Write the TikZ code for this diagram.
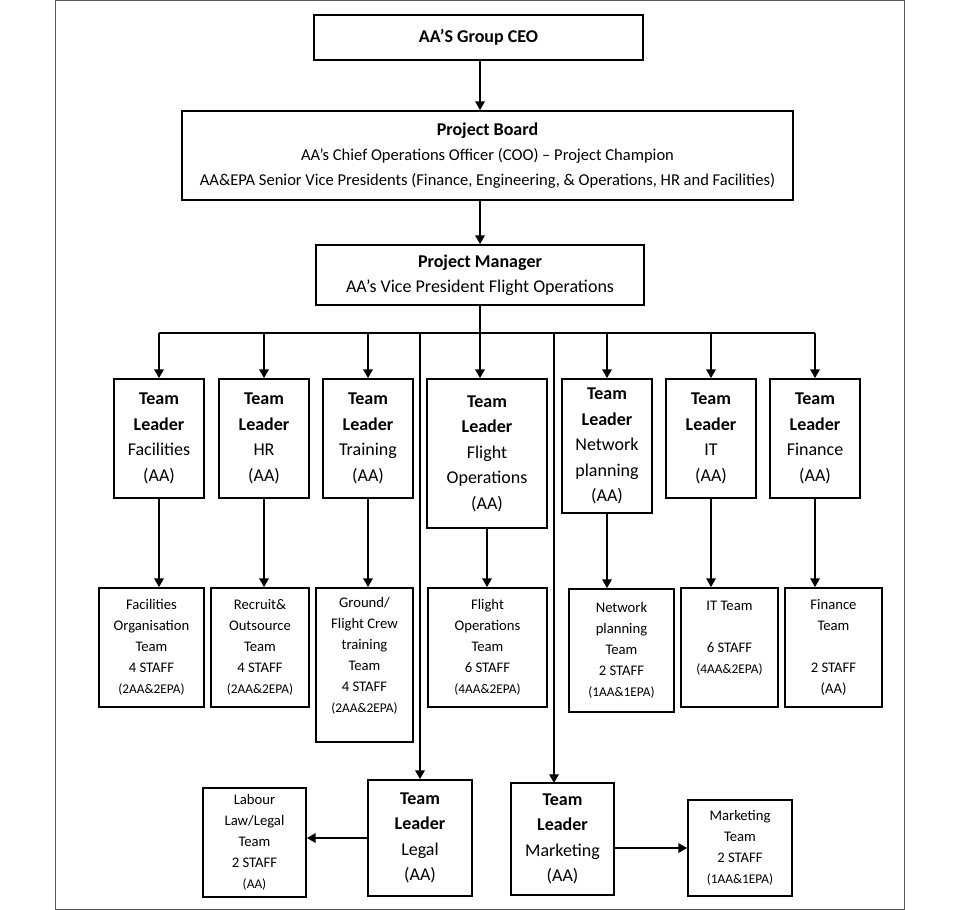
\documentclass[tikz,border=0pt]{standalone}
\usepackage{fontspec}
\setmainfont{Carlito}
\usepackage{tikz}
\usetikzlibrary{arrows.meta}
\tikzset{every picture/.style={line width=0.75pt}}
\tikzset{
  box/.style={draw, line width=1.3pt, fill=white, align=center, inner sep=1pt},
  headbox/.style={box, font=\fontsize{13.5}{19}\selectfont},
  leadbox/.style={box, font=\fontsize{13.5}{19.1}\selectfont},
  teambox/.style={box, font=\fontsize{11}{15.75}\selectfont},
  arr/.style={line width=1.3pt, -{Triangle[length=6.5pt,width=7pt]}},
  bar/.style={line width=1.3pt}
}
\newcommand{\mixfnt}{\fontsize{10}{15}\selectfont}
\newcommand{\subfnt}{\fontsize{12.4}{18}\selectfont}

\begin{document}
\begin{tikzpicture}[x=0.75pt,y=0.75pt,yscale=-1,xscale=1]
\useasboundingbox (0,0) rectangle (960,910);
\fill[white] (0,0) rectangle (960,910);
%Frame
\draw[draw=black!65, line width=0.9pt] (55.5,0.5) rectangle (904.5,909.5);

% Top of chart
\node[headbox, minimum width=246.75pt, minimum height=33.75pt] (ceo) at (478.5,37.5) {\bfseries AA’S Group CEO};
\node[headbox, minimum width=458.25pt, minimum height=66.75pt] (board) at (487.5,155.5)
  {\bfseries Project Board\\ \subfnt AA’s Chief Operations Officer (COO) – Project Champion\\ \subfnt AA\&EPA Senior Vice Presidents (Finance, Engineering, \& Operations, HR and Facilities)};
\node[headbox, minimum width=246pt, minimum height=45pt] (pm) at (480,275)
  {\bfseries Project Manager\\ AA’s Vice President Flight Operations};

% Team leaders
\node[leadbox, minimum width=67.5pt, minimum height=89.25pt] (tlfac) at (159,438.5) {\bfseries Team\\ \bfseries Leader\\ Facilities\\ (AA)};
\node[leadbox, minimum width=67.5pt, minimum height=89.25pt] (tlhr) at (264,438.5) {\bfseries Team\\ \bfseries Leader\\ HR\\ (AA)};
\node[leadbox, minimum width=67.5pt, minimum height=89.25pt] (tltrn) at (368,438.5) {\bfseries Team\\ \bfseries Leader\\ Training\\ (AA)};
\node[leadbox, minimum width=90pt, minimum height=111.75pt] (tlfli) at (487,453.5) {\bfseries Team\\ \bfseries Leader\\ Flight\\ Operations\\ (AA)};
\node[leadbox, minimum width=67.5pt, minimum height=100.5pt] (tlnet) at (607,446) {\bfseries Team\\ \bfseries Leader\\ Network\\ planning\\ (AA)};
\node[leadbox, minimum width=67.5pt, minimum height=89.25pt] (tlit) at (711,438.5) {\bfseries Team\\ \bfseries Leader\\ IT\\ (AA)};
\node[leadbox, minimum width=67.5pt, minimum height=89.25pt] (tlfin) at (815,438.5) {\bfseries Team\\ \bfseries Leader\\ Finance\\ (AA)};

% Teams
\node[teambox, minimum width=78.75pt, minimum height=89.25pt] (tmfac) at (151.5,647.5) {Facilities\\ Organisation\\ Team\\ 4 STAFF\\ \mixfnt (2AA\&2EPA)};
\node[teambox, minimum width=73.5pt, minimum height=89.25pt] (tmhr) at (260,647.5) {Recruit\&\\ Outsource\\ Team\\ 4 STAFF\\ \mixfnt (2AA\&2EPA)};
\node[teambox, minimum width=72.75pt, minimum height=115.5pt] (tmtrn) at (364.5,665) {Ground/\\ Flight Crew\\ training\\ Team\\ 4 STAFF\\ \mixfnt (2AA\&2EPA)\\ ~};
\node[teambox, minimum width=89.25pt, minimum height=89.25pt] (tmfli) at (487.5,647.5) {Flight\\ Operations\\ Team\\ 6 STAFF\\ \mixfnt (4AA\&2EPA)};
\node[teambox, minimum width=78.75pt, minimum height=92.25pt] (tmnet) at (621.5,650.5) {Network\\ planning\\ Team\\ 2 STAFF\\ \mixfnt (1AA\&1EPA)};
\node[teambox, minimum width=72.75pt, minimum height=89.25pt] (tmit) at (729.5,647.5) {IT Team\\ ~\\ 6 STAFF\\ \mixfnt (4AA\&2EPA)\\ ~};
\node[teambox, minimum width=72.75pt, minimum height=89.25pt] (tmfin) at (833.5,647.5) {Finance\\ Team\\ ~\\ 2 STAFF\\ (AA)};

% Bottom row
\node[leadbox, minimum width=78pt, minimum height=87pt] (tllgl) at (420,838) {\bfseries Team\\ \bfseries Leader\\ Legal\\ (AA)};
\node[teambox, minimum width=77.25pt, minimum height=81.75pt] (tmlgl) at (254.5,842.5) {Labour\\ Law/Legal\\ Team\\ 2 STAFF\\ \mixfnt (AA)};
\node[leadbox, minimum width=77.25pt, minimum height=84pt] (tlmkt) at (562.5,839) {\bfseries Team\\ \bfseries Leader\\ Marketing\\ (AA)};
\node[teambox, minimum width=78pt, minimum height=72pt] (tmmkt) at (740,848) {Marketing\\ Team\\ 2 STAFF\\ \mixfnt (1AA\&1EPA)};

\coordinate (bus) at (480,333);
\coordinate (mktin) at (554,783);

%Connectors
\draw[arr] (ceo.south -| pm.north) -- (board.north -| pm.north);
\draw[arr] (board.south -| pm.north) -- (pm.north);
\draw[arr] (pm.south) -- (pm.south |- tlfli.north);
\draw[bar] (tlfac.north |- bus) -- (tlfin.north |- bus);
\foreach \n in {tlfac,tlhr,tltrn,tlnet,tlit,tlfin}
  \draw[arr] (\n.north |- bus) -- (\n.north);
\draw[arr] (tllgl.north |- bus) -- (tllgl.north);
\draw[arr] (mktin |- bus) -- (mktin);
\foreach \a/\b in {tlfac/tmfac,tlhr/tmhr,tltrn/tmtrn,tlfli/tmfli,tlnet/tmnet,tlit/tmit,tlfin/tmfin}
  \draw[arr] (\a.south) -- (\a.south |- \b.north);
\draw[arr] (tllgl.west) -- (tllgl.west -| tmlgl.east);
\draw[arr] (tmmkt.west -| tlmkt.east) -- (tmmkt.west);

\end{tikzpicture}
\end{document}
